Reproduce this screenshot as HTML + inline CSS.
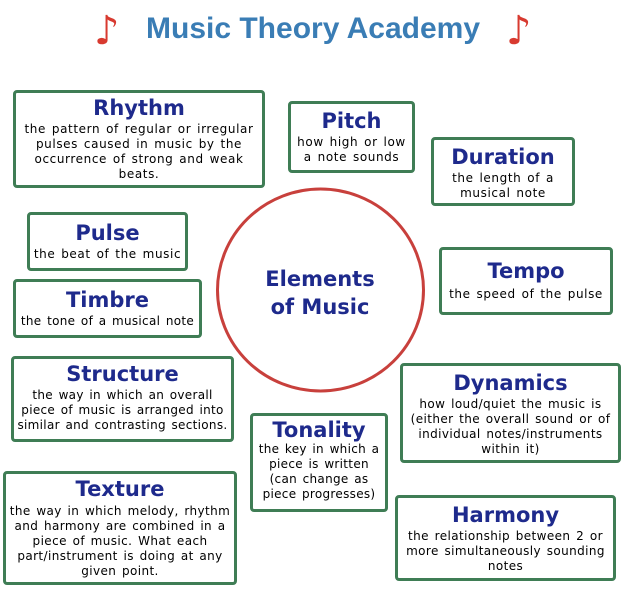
<!DOCTYPE html>
<html><head><meta charset="utf-8"><style>
body{margin:0;width:626px;height:598px;background:#fff;position:relative;overflow:hidden;font-family:"DejaVu Sans","Liberation Sans",sans-serif}
.b{position:absolute;box-sizing:border-box;border:3px solid #3f7d55;border-radius:4px;text-align:center;background:#fff}
.t{color:#1e2a8c;font-size:21px;line-height:24px;font-weight:bold;margin-top:3px}
.d{color:#000;font-size:12px;line-height:15px;white-space:nowrap;letter-spacing:0.6px;word-spacing:1.5px;margin-top:2px}
.h{position:absolute;top:12px;left:0;width:626px;text-align:center;color:#3a7db5;font-weight:bold;font-size:30px;font-family:"Liberation Sans",sans-serif}
.n{position:absolute;color:#d83a30;font-size:40px;top:8px;font-family:"DejaVu Sans",sans-serif}
</style></head><body>
<div class="h">Music Theory Academy</div>
<div class="n" style="left:94px">♪</div>
<div class="n" style="left:506px">♪</div>
<svg style="position:absolute;left:0;top:0" width="626" height="598"><ellipse cx="320.5" cy="290" rx="103" ry="101" fill="none" stroke="#c8403c" stroke-width="3"/>
<text x="320" y="286" text-anchor="middle" font-family="DejaVu Sans" font-size="21" fill="#1e2a8c" font-weight="bold">Elements</text>
<text x="320" y="314" text-anchor="middle" font-family="DejaVu Sans" font-size="21" fill="#1e2a8c" font-weight="bold">of  Music</text></svg>
<div class="b" style="left:13px;top:90px;width:252px;height:98px"><div class="t">Rhythm</div><div class="d">the pattern of regular or irregular<br>pulses caused in music by the<br>occurrence of strong and weak<br>beats.</div></div>
<div class="b" style="left:288px;top:101px;width:127px;height:72px"><div class="t" style="margin-top:5px">Pitch</div><div class="d">how high or low<br>a note sounds</div></div>
<div class="b" style="left:431px;top:137px;width:144px;height:69px"><div class="t" style="margin-top:5px">Duration</div><div class="d">the length of a<br>musical note</div></div>
<div class="b" style="left:27px;top:212px;width:161px;height:59px"><div class="t" style="margin-top:6px">Pulse</div><div class="d" style="margin-top:2px">the beat of the music</div></div>
<div class="b" style="left:13px;top:279px;width:189px;height:59px"><div class="t" style="margin-top:6px">Timbre</div><div class="d" style="margin-top:2px;letter-spacing:0.3px">the tone of a musical note</div></div>
<div class="b" style="left:439px;top:247px;width:174px;height:68px"><div class="t" style="margin-top:9px">Tempo</div><div class="d" style="margin-top:4px">the speed of the pulse</div></div>
<div class="b" style="left:11px;top:356px;width:223px;height:86px"><div class="t">Structure</div><div class="d" style="letter-spacing:0.3px">the way in which an overall<br>piece of music is arranged into<br>similar and contrasting sections.</div></div>
<div class="b" style="left:400px;top:363px;width:221px;height:100px"><div class="t" style="margin-top:5px">Dynamics</div><div class="d" style="letter-spacing:0.4px">how loud/quiet the music is<br>(either the overall sound or of<br>individual notes/instruments<br>within it)</div></div>
<div class="b" style="left:250px;top:413px;width:138px;height:99px"><div class="t" style="margin-top:2px">Tonality</div><div class="d" style="margin-top:0;letter-spacing:0.3px">the key in which a<br>piece is written<br>(can change as<br>piece progresses)</div></div>
<div class="b" style="left:3px;top:471px;width:234px;height:114px"><div class="t" style="margin-top:3px">Texture</div><div class="d" style="margin-top:3px;letter-spacing:0.4px">the way in which melody, rhythm<br>and harmony are combined in a<br>piece of music. What each<br>part/instrument is doing at any<br>given point.</div></div>
<div class="b" style="left:395px;top:495px;width:221px;height:86px"><div class="t" style="margin-top:5px">Harmony</div><div class="d" style="letter-spacing:0.4px">the relationship between 2 or<br>more simultaneously sounding<br>notes</div></div>
</body></html>
